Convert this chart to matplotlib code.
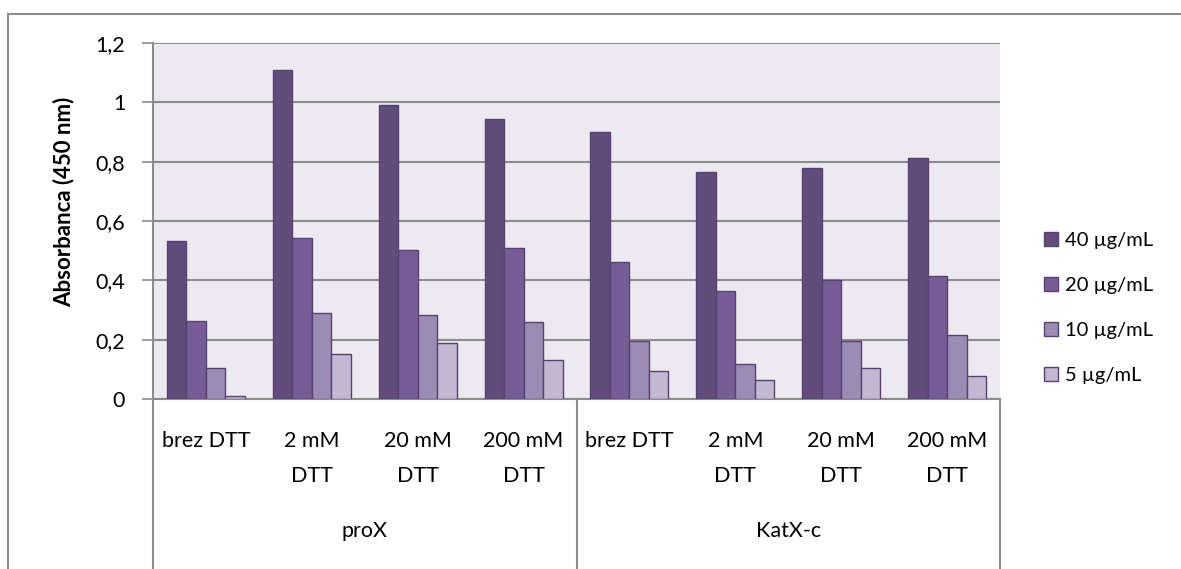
import matplotlib
matplotlib.use("Agg")
import matplotlib.pyplot as plt
from matplotlib.lines import Line2D
import matplotlib.transforms as mtransforms
import numpy as np

plt.rcParams['font.family'] = ['Lato', 'DejaVu Sans']

groups = ["proX", "KatX-c"]
conditions = ["brez DTT", "2 mM\nDTT", "20 mM\nDTT", "200 mM\nDTT"]
series_names = ["40 µg/mL", "20 µg/mL", "10 µg/mL", "5 µg/mL"]
s40 = [0.534, 1.109, 0.991, 0.943, 0.899, 0.765, 0.777, 0.813]
s20 = [0.263, 0.543, 0.502, 0.509, 0.462, 0.363, 0.402, 0.414]
s10 = [0.104, 0.290, 0.283, 0.258, 0.197, 0.118, 0.197, 0.217]
s5 = [0.010, 0.153, 0.188, 0.131, 0.093, 0.064, 0.103, 0.078]
yticks = [0, 0.2, 0.4, 0.6, 0.8, 1.0, 1.2]
ytick_labels = ["0", "0,2", "0,4", "0,6", "0,8", "1", "1,2"]

series = [s40, s20, s10, s5]
colors = ["#614C7C", "#775D96", "#9C8BB3", "#C3B8D2"]
edge = "#574273"

W, H = 1181, 569
fig = plt.figure(figsize=(W / 100, H / 100), dpi=100)
x0, x1, ytop, ybot = 153, 1000, 43, 399
ax = fig.add_axes([x0 / W, (H - ybot) / H, (x1 - x0) / W, (ybot - ytop) / H])
ax.set_facecolor("#ECE9F0")

n_cat = len(groups) * len(conditions)
x = np.arange(n_cat)
w = 0.184
for i, (vals, c, name) in enumerate(zip(series, colors, series_names)):
    ax.bar(x + (i - 1.5) * w, vals, width=w, color=c, edgecolor=edge,
           linewidth=1.0, label=name, zorder=3)

ax.set_xlim(-0.5, n_cat - 0.5)
ax.set_ylim(0, 1.2)
ax.set_yticks(yticks)
ax.set_yticklabels(ytick_labels, fontsize=15.5)
ax.yaxis.grid(True, color="#8C8C8C", linewidth=1.5, zorder=1)
ax.set_axisbelow(True)
ax.tick_params(axis="y", direction="out", length=8, width=1.2, color="#8C8C8C",
               pad=12, labelcolor="black")
ax.set_xticks([])
for side in ["top", "right"]:
    ax.spines[side].set_visible(False)
ax.spines["left"].set_color("#8C8C8C")
ax.spines["left"].set_linewidth(1.5)
ax.spines["bottom"].set_color("#8C8C8C")
ax.spines["bottom"].set_linewidth(1.5)

px = ybot - ytop
def fy(ypix):
    return (ybot - ypix) / px

ax.set_ylabel("Absorbanca (450 nm)", fontsize=16, fontweight="bold")
ax.yaxis.set_label_coords((74 - x0) / (x1 - x0), fy(202))

# multi-level category axis
trans = mtransforms.blended_transform_factory(ax.transData, ax.transAxes)

for xs in [-0.5, len(conditions) - 0.5, n_cat - 0.5]:
    ax.add_line(Line2D([xs, xs], [0, fy(H + 2)], transform=trans, color="#8C8C8C",
                       linewidth=1.5, clip_on=False))

for gi, g in enumerate(groups):
    for ci, cond in enumerate(conditions):
        xc = gi * len(conditions) + ci
        for li, line in enumerate(cond.split("\n")):
            ax.text(xc, fy(441 + li * 35), line, transform=trans, ha="center",
                    va="center", fontsize=15.5)
    xg = gi * len(conditions) + (len(conditions) - 1) / 2
    ax.text(xg, fy(531), g, transform=trans, ha="center", va="center", fontsize=15.5)

# outer chart border (top and left)
fig.add_artist(Line2D([8 / W, 1], [1 - 14 / H, 1 - 14 / H], transform=fig.transFigure,
                      color="#8C8C8C", linewidth=1.5))
fig.add_artist(Line2D([8 / W, 8 / W], [0, 1 - 14 / H], transform=fig.transFigure,
                      color="#8C8C8C", linewidth=1.5))

leg = ax.legend(loc="center left", bbox_to_anchor=(1030 / W, (H - 308) / H),
                bbox_transform=fig.transFigure, frameon=False, fontsize=14.5,
                handlelength=0.7, handleheight=0.7, handletextpad=0.35,
                labelspacing=1.38, borderpad=0.2)

fig.savefig("out.png", dpi=100)
